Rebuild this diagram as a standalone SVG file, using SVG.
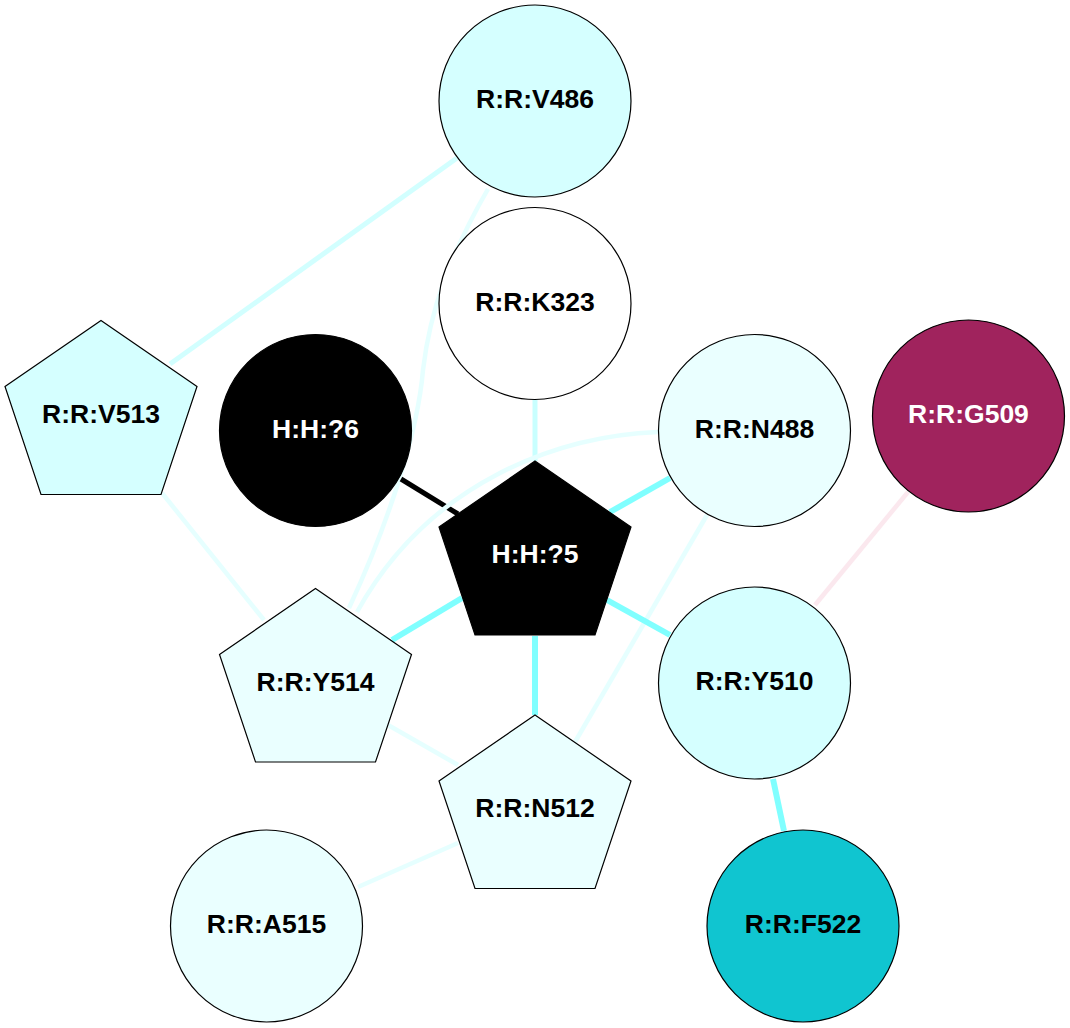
<svg xmlns="http://www.w3.org/2000/svg" width="1070" height="1028" viewBox="0 0 1070 1028">
<style>
.n{stroke:#000;stroke-width:1.2}
.t{font-family:"Liberation Sans",Arial,sans-serif;font-weight:bold;font-size:26.5px;text-anchor:middle;fill:#000}
.w{fill:#fff}
.e{fill:none}
.thick{stroke:#80ffff;stroke-width:6}
.light{stroke:#e6ffff;stroke-width:4.5}
.mid{stroke:#d2ffff;stroke-width:5}
</style>
<rect width="1070" height="1028" fill="#fff"/>
<g id="edges">
<line class="e mid" x1="457" y1="158" x2="170" y2="364"/>
<path class="e light" d="M488,189 C450,255 430,310 423,370 C418,430 390,520 349,608"/>
<line class="e" stroke="#c8ffff" stroke-width="5" x1="535" y1="399" x2="535" y2="461"/>
<line class="e" stroke="#000" stroke-width="5" x1="401" y1="479" x2="458" y2="514"/>
<path class="e light" d="M658,432 C560,436 430,480 357,612"/>
<line class="e thick" x1="610" y1="512" x2="670" y2="478"/>
<line class="e light" x1="707" y1="515" x2="575" y2="742"/>
<line class="e" stroke="#fbe8ee" stroke-width="4.5" x1="908" y1="492" x2="815" y2="605"/>
<line class="e light" x1="162" y1="493" x2="264" y2="620"/>
<line class="e thick" x1="462" y1="598" x2="392" y2="640"/>
<line class="e thick" x1="607" y1="600" x2="670" y2="635"/>
<line class="e thick" x1="535" y1="636" x2="535" y2="715"/>
<line class="e light" x1="388" y1="725" x2="458" y2="765"/>
<line class="e thick" x1="773" y1="779" x2="784" y2="831"/>
<line class="e light" x1="458" y1="843" x2="358" y2="887"/>
</g>
<g id="V486"><circle class="n" cx="535" cy="101" r="96" fill="#d5ffff"/><text class="t" x="535" y="108">R:R:V486</text></g>
<g id="K323"><circle class="n" cx="535" cy="303.5" r="96" fill="#ffffff"/><text class="t" x="535" y="310.5">R:R:K323</text></g>
<g id="V513"><polygon class="n" fill="#d5ffff" points="101,320.5 197,386.5 161,494.5 41,494.5 5,386.5"/><text class="t" x="101" y="423">R:R:V513</text></g>
<g id="H6"><circle class="n" cx="315.5" cy="430.5" r="96" fill="#000"/><text class="t w" x="315.5" y="437.5">H:H:?6</text></g>
<g id="N488"><circle class="n" cx="754.5" cy="430.5" r="96" fill="#eaffff"/><text class="t" x="754.5" y="437.5">R:R:N488</text></g>
<g id="G509"><circle class="n" cx="968.5" cy="416" r="96" fill="#a0235d"/><text class="t w" x="968.5" y="423">R:R:G509</text></g>
<g id="H5"><polygon class="n" fill="#000" points="535,461 631,527 595,635 475,635 439,527"/><text class="t w" x="535" y="563">H:H:?5</text></g>
<g id="Y514"><polygon class="n" fill="#eaffff" points="315.5,588.5 411.5,654.5 375.5,762 255.5,762 219.5,654.5"/><text class="t" x="315.5" y="690.5">R:R:Y514</text></g>
<g id="Y510"><circle class="n" cx="754.5" cy="683" r="96" fill="#d5ffff"/><text class="t" x="754.5" y="690">R:R:Y510</text></g>
<g id="N512"><polygon class="n" fill="#eaffff" points="535,715 631,781 595,888.5 475,888.5 439,781"/><text class="t" x="535" y="817">R:R:N512</text></g>
<g id="A515"><circle class="n" cx="266.5" cy="926" r="96" fill="#eaffff"/><text class="t" x="266.5" y="933">R:R:A515</text></g>
<g id="F522"><circle class="n" cx="803" cy="926" r="96" fill="#10c5d0"/><text class="t" x="803" y="933">R:R:F522</text></g>
</svg>
